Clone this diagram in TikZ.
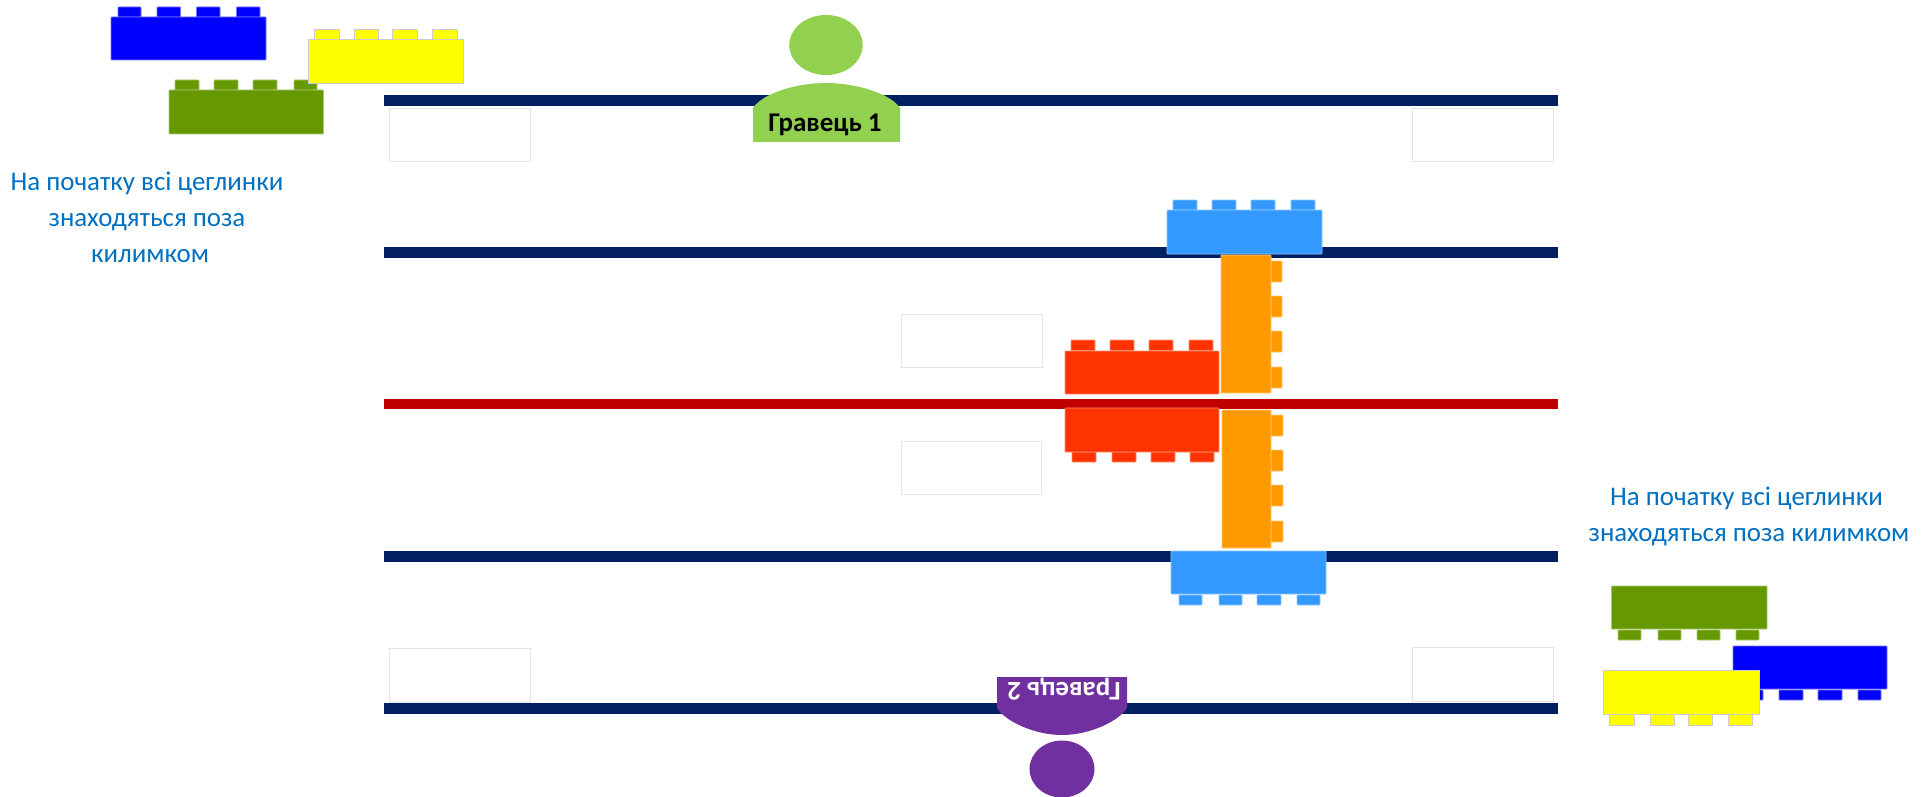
\documentclass[tikz,border=0pt]{standalone}
\usepackage{fontspec}
\setmainfont{Carlito}
\definecolor{navybar}{HTML}{002060}
\definecolor{redbar}{HTML}{C00000}
\definecolor{bluebrick}{HTML}{0000FF}
\definecolor{yellowbrick}{HTML}{FFFF00}
\definecolor{greenbrick}{HTML}{669900}
\definecolor{skybrick}{HTML}{3399FF}
\definecolor{orangebrick}{HTML}{FF9900}
\definecolor{redbrick}{HTML}{FF3300}
\definecolor{greenman}{HTML}{92D050}
\definecolor{purpleman}{HTML}{7030A0}
\definecolor{note}{HTML}{0070C0}
\tikzset{
  brick/.style={fill=#1,draw=#1!55!white,line width=0.8pt,rounded corners=0.6pt},
  ybrick/.style={fill=yellowbrick,draw=black!20,line width=0.8pt},
  bar/.style={fill=#1,draw=none},
  mat/.style={fill=white,draw=black!10,line width=1pt},
  notetext/.style={text=note,font=\fontsize{26.9}{36}\selectfont,align=center,inner sep=0pt},
  mantext/.style={font=\fontsize{27}{30}\selectfont\bfseries,inner sep=0pt}
}
\newcommand{\HBrick}[9]{%
  \foreach \a/\b in {#8}{\path[brick=#1] (\a,#6) rectangle (\b,#7);}%
  \path[brick=#1] (#2,#3) rectangle (#4,#5);}
\newcommand{\YBrick}[8]{%
  \foreach \a/\b in {#7}{\path[ybrick] (\a,#5) rectangle (\b,#6);}%
  \path[ybrick] (#1,#2) rectangle (#3,#4);}
\newcommand{\VBrick}[7]{%
  \foreach \a/\b in {#7}{\path[brick=#1] (#4,\a) rectangle (#6,\b);}%
  \path[brick=#1] (#2,#3) rectangle (#4,#5);}
\begin{document}
\begin{tikzpicture}[x=1pt,y=-1pt]
\useasboundingbox (0,0) rectangle (1931,797);
% bars
\path[bar=navybar] (384,95) rectangle (1558,106);
\path[bar=navybar] (384,247) rectangle (1558,258);
\path[bar=redbar] (384,399) rectangle (1558,409);
\path[bar=navybar] (384,551) rectangle (1558,562);
\path[bar=navybar] (384,703) rectangle (1558,714);
% mats
\path[mat] (389.5,109) rectangle (530.5,162);
\path[mat] (1412,109) rectangle (1553,162);
\path[mat] (901.5,314) rectangle (1042,367);
\path[mat] (901.5,441) rectangle (1041,494);
\path[mat] (389,648) rectangle (530,702);
\path[mat] (1412,647.5) rectangle (1553,701);
% loose bricks, top left
\HBrick{bluebrick}{111}{17}{266}{60}{7}{17}{118/141,157/180.5,196.5/220,236.5/260}{}
\HBrick{greenbrick}{169}{90}{323.5}{134}{80}{90}{175/199,214/238,253/277,294/317}{}
\YBrick{308}{39}{463}{83}{29}{39}{314/339,354/378,392.5/417,432.5/457}{}
% bricks on the mats
\HBrick{skybrick}{1167}{210}{1322}{254}{200}{210}{1173/1197,1212/1236,1251/1275,1291/1315}{}
\VBrick{orangebrick}{1221}{255}{1271}{393}{1282}{261/282,296/317,331/352,367/388}
\HBrick{redbrick}{1065}{351}{1219}{394}{340}{350.5}{1071/1095,1110/1134,1149/1173,1189/1213}{}
\HBrick{redbrick}{1065}{408}{1219}{452}{452}{462}{1072/1096,1112/1136,1151/1175,1190/1214}{}
\VBrick{orangebrick}{1222}{410}{1271}{548}{1283}{415/436,450/471,485/506,521/542}
\HBrick{skybrick}{1171}{551}{1326}{594}{595}{605}{1179/1202,1219/1242,1257/1281,1297/1320}{}
% loose bricks, bottom right
\HBrick{greenbrick}{1611.5}{586}{1767}{629}{630}{640}{1618/1641,1658/1681,1697/1720,1736/1759}{}
\HBrick{bluebrick}{1733}{646}{1887}{689}{690}{700}{1740/1763,1779/1803,1818/1842,1858/1881}{}
\YBrick{1603.5}{670}{1759}{714}{714.5}{725}{1609/1634,1650/1674,1688.5/1712.5,1728/1752}{}
% player 1
\path[fill=greenman] (826,45) ellipse [x radius=36.7,y radius=30];
\path[fill=greenman] (753,142) -- (753,108) .. controls (762,94) and (795,83) .. (826,83) .. controls (857,83) and (891,94) .. (900,108) -- (900,142) -- cycle;
\node[mantext] (p1) at (825,125) {Гравець 1};
% player 2
\path[fill=purpleman] (1062,769) ellipse [x radius=32.5,y radius=28.5];
\path[fill=purpleman] (997,677) -- (1127,677) -- (1127,708) .. controls (1119,721) and (1090,735) .. (1062,735) .. controls (1034,735) and (1005,721) .. (997,708) -- cycle;
\node[mantext,text=white,rotate=180] (p2) at (1064,689) {Гравець 2};
% notes
\node[notetext] (n1) at (147,217) {На початку всі цеглинки\\знаходяться поза\\\hspace*{6pt}килимком};
\node[notetext] (n2) at (1749,516) {На початку всі цеглинки\hspace*{5pt}\\знаходяться поза килимком};
\end{tikzpicture}
\end{document}
